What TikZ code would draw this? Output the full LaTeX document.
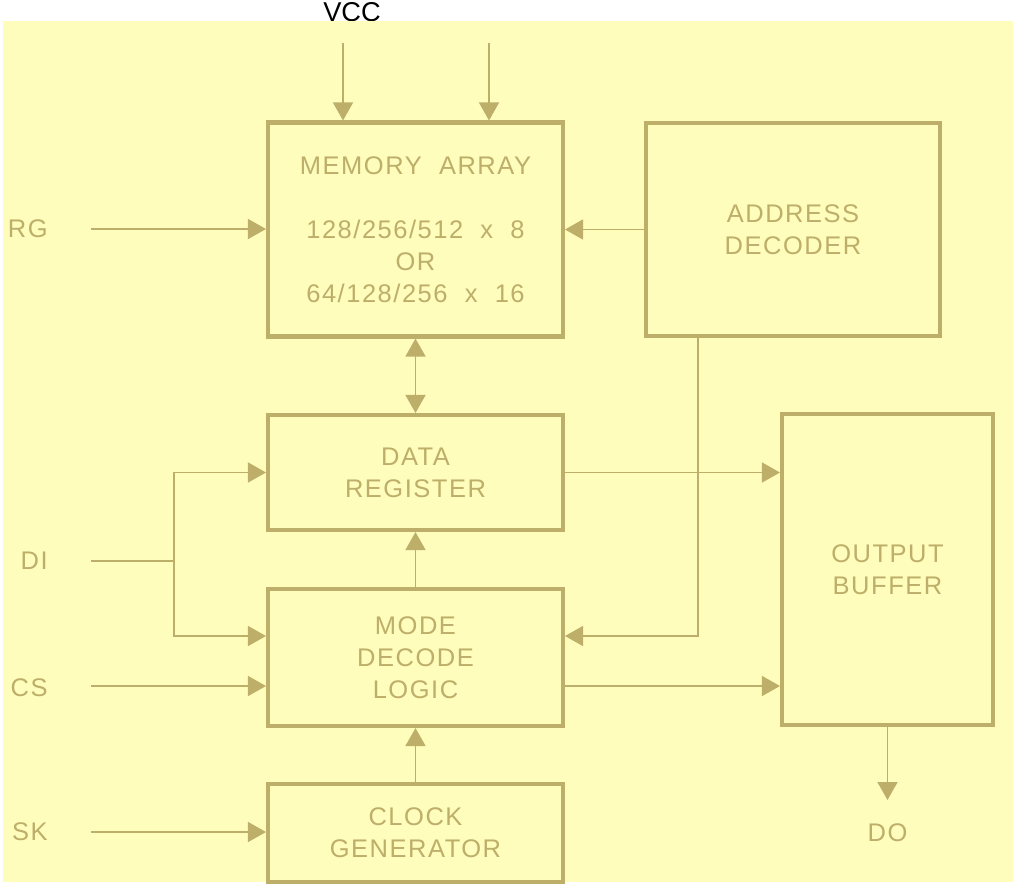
\documentclass[tikz,border=0pt]{standalone}
\usepackage{fontspec}
\setmainfont{Liberation Sans}
\newfontfamily\blockfont{Liberation Sans}[LetterSpace=6]
\usetikzlibrary{arrows.meta,calc}
\definecolor{PaperClr}{RGB}{255,253,187}
\definecolor{LineClr}{RGB}{189,174,106}

\begin{document}
\begin{tikzpicture}[x=0.2mm,y=-0.2mm,>={Triangle[length=3.6mm,width=4mm]},
  block/.style={draw=LineClr,line width=2.3pt,text=LineClr,align=center,
    inner sep=0pt,font=\blockfont\fontsize{14.5}{18.2}\selectfont},
  pin/.style={text=LineClr,inner sep=0pt,font=\blockfont\fontsize{14.5}{18.2}\selectfont},
  wire/.style={draw=LineClr,line width=0.8pt,->}]
\fill[white] (0,0) rectangle (1013,888);
\useasboundingbox (0,0) rectangle (1013,888);

\node[font=\fontsize{15.5}{15.5}\selectfont,anchor=base] (vcc) at (352,21) {VCC};
\fill[PaperClr] (3,21) rectangle (1013,882);

% blocks
\node[block,minimum width=59mm,minimum height=42.8mm] (mem) at (415.5,229.5)
  {MEMORY\ \ ARRAY\\[18.2pt]128/256/512\ \ x\ \ 8\\OR\\64/128/256\ \ x\ \ 16};
\node[block,minimum width=58.8mm,minimum height=42.6mm] (addr) at (793,229.5) {ADDRESS\\DECODER};
\node[block,minimum width=59mm,minimum height=23mm] (data) at (415.5,472.5) {DATA\\REGISTER};
\node[block,minimum width=59mm,minimum height=27.4mm] (mode) at (415.5,657.5) {MODE\\DECODE\\LOGIC};
\node[block,minimum width=59mm,minimum height=19.6mm] (clock) at (415.5,833) {CLOCK\\GENERATOR};
\node[block,minimum width=42.2mm,minimum height=62.2mm] (outbuf) at (887.5,569.5) {OUTPUT\\BUFFER};

% pins
\node[pin,anchor=east] (rg) at (48,229) {RG};
\node[pin,anchor=east] (di) at (48,561) {DI};
\node[pin,anchor=east] (cs) at (48,688) {CS};
\node[pin,anchor=east] (sk) at (48,832) {SK};
\node[pin] (do) at (887.5,833) {DO};

\coordinate (vcca) at (343,43);
\coordinate (vccb) at (489,43);
\coordinate (rgin) at (91,229);
\coordinate (diin) at (91,561);
\coordinate (split) at (174,561);
\coordinate (csin) at (91,686);
\coordinate (skin) at (91,832);
\coordinate (modeadr) at (698,636);
\coordinate (dotip) at (887.5,800);

% connectors
\draw[wire] (vcca) -- (vcca |- mem.north);
\draw[wire] (vccb) -- (vccb |- mem.north);
\draw[wire] (rgin) -- (rgin -| mem.west);
\draw[wire] (addr.west) -- (mem.east);
\draw[wire,<->] (mem.south) -- (data.north);
\draw[wire] (data.east) -- (data.east -| outbuf.west);
\draw[draw=LineClr,line width=0.8pt] (diin) -- (split);
\draw[wire] (split) |- (data.west);
\draw[wire] (split) |- (modeadr -| mode.west);
\draw[wire] (csin) -- (csin -| mode.west);
\draw[wire] (mode.north) -- (data.south);
\draw[wire] (addr.south -| modeadr) |- (modeadr -| mode.east);
\draw[wire] (mode.east |- csin) -- (csin -| outbuf.west);
\draw[wire] (clock.north) -- (mode.south);
\draw[wire] (skin) -- (skin -| clock.west);
\draw[wire] (outbuf.south) -- (dotip);

\end{tikzpicture}
\end{document}
